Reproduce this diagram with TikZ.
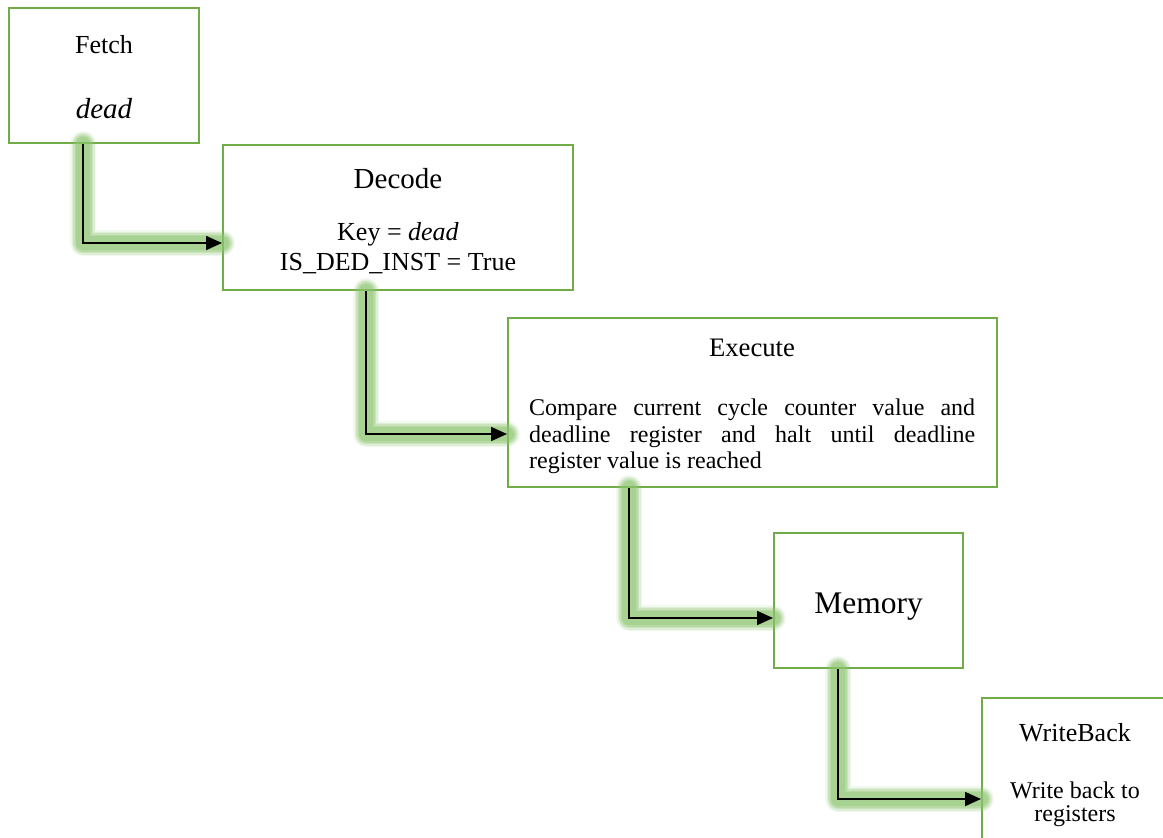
\documentclass[tikz,border=0pt]{standalone}
\usepackage{fontspec}
\setmainfont{Liberation Serif}
\usetikzlibrary{arrows.meta}
\definecolor{boxgreen}{RGB}{112,173,71}
\definecolor{glowc}{RGB}{140,195,110}
\tikzset{
  box/.style={draw=boxgreen, line width=2pt, rectangle, inner sep=0pt},
  lbl/.style={anchor=base, inner sep=0pt},
  lblw/.style={anchor=base west, inner sep=0pt},
  conn/.style={draw=black, line width=1.8pt, -{Triangle[length=16pt,width=14pt]}},
}
\newcommand\glowpath[1]{%
  \foreach \w/\o in {26/0.12,23/0.18,20/0.25,17/0.3,14/0.35}{%
    \draw[glowc, line width=\w pt, opacity=\o, line cap=round, line join=round] #1;}%
}
\newcommand\fs[1]{\fontsize{#1}{#1}\selectfont}
\begin{document}
\begin{tikzpicture}[x=1pt,y=-1pt]
\useasboundingbox (0,0) rectangle (1163,838);
\clip (0,0) rectangle (1163,838);
% boxes
\node[box, minimum width=190pt, minimum height=135pt] (fetch) at (104,75.5) {};
\node[box, minimum width=350pt, minimum height=145pt] (decode) at (398,217.5) {};
\node[box, minimum width=489pt, minimum height=169pt] (execute) at (752.5,402.5) {};
\node[box, minimum width=189pt, minimum height=135pt] (memory) at (868.5,600.5) {};
\node[box, minimum width=199pt, minimum height=162pt] (wb) at (1081.5,779) {};
% texts
\node[lbl] (tfetch) at (104,53) {\fs{26}Fetch};
\node[lbl] (tdead) at (104,118) {\fs{29}\textit{dead}};
\node[lbl] (tdecode) at (398,188) {\fs{29}Decode};
\node[lbl] (tkey) at (398,240) {\fs{26}Key = \textit{dead}};
\node[lbl] (tis) at (398,270) {\fs{26}IS\_DED\_INST = True};
\node[lbl] (texec) at (752,356) {\fs{26.7}Execute};
\node[lblw] (te1) at (529,415) {\fs{24}\makebox[446pt][s]{Compare current cycle counter value and}};
\node[lblw] (te2) at (529,442) {\fs{24}\makebox[446pt][s]{deadline register and halt until deadline}};
\node[lblw] (te3) at (529,468) {\fs{24}register value is reached};
\node[lbl] (tmem) at (868.5,613) {\fs{31.5}Memory};
\node[lbl] (twb) at (1075,741) {\fs{26}WriteBack};
\node[lbl] (tw1) at (1075,798) {\fs{24}Write back to};
\node[lbl] (tw2) at (1075,821) {\fs{24}registers};
% corners
\coordinate (c1) at (83,243);
\coordinate (c2) at (366,434);
\coordinate (c3) at (629,618);
\coordinate (c4) at (838,799);
% glows
\glowpath{(fetch.south -| c1) -- (c1) -- (c1 -| decode.west)}
\glowpath{(decode.south -| c2) -- (c2) -- (c2 -| execute.west)}
\glowpath{(execute.south -| c3) -- (c3) -- (c3 -| memory.west)}
\glowpath{(memory.south -| c4) -- (c4) -- (c4 -| wb.west)}
% connectors
\draw[conn] (fetch.south -| c1) -- (c1) -- (c1 -| decode.west);
\draw[conn] (decode.south -| c2) -- (c2) -- (c2 -| execute.west);
\draw[conn] (execute.south -| c3) -- (c3) -- (c3 -| memory.west);
\draw[conn] (memory.south -| c4) -- (c4) -- (c4 -| wb.west);
\end{tikzpicture}
\end{document}
